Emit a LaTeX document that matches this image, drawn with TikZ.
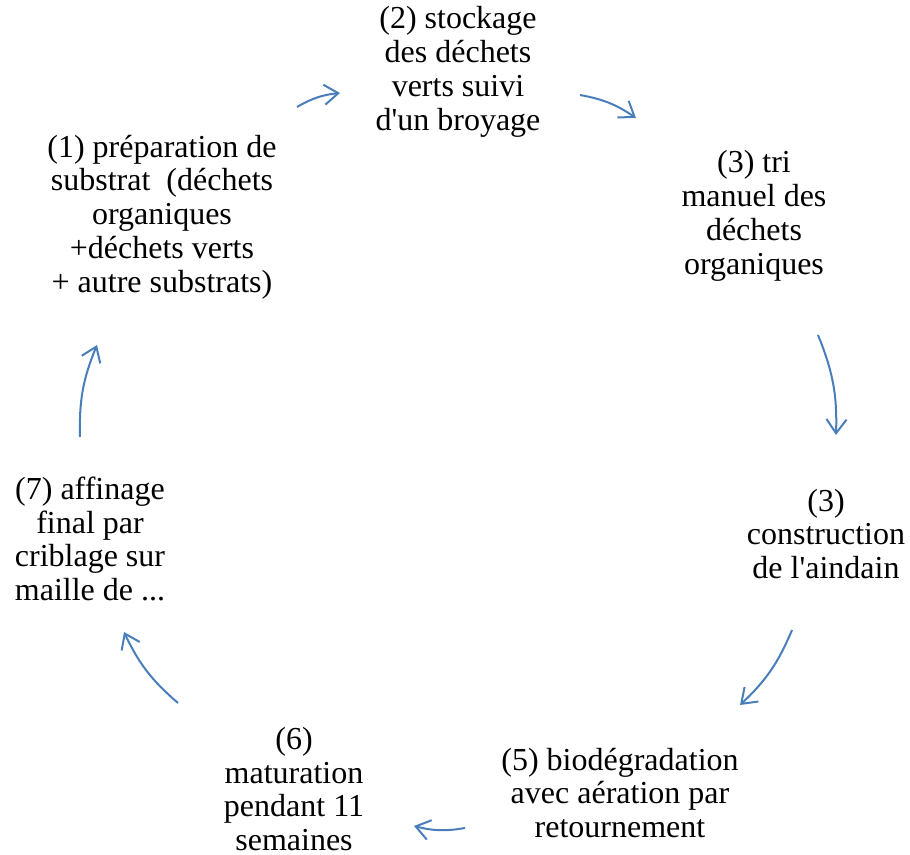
\documentclass[tikz,border=0pt]{standalone}
\usepackage{fontspec}
\setmainfont{Liberation Serif}
\usetikzlibrary{arrows.meta}
\definecolor{arrowblue}{HTML}{4A7EBB}
\tikzset{
  stepnode/.style={align=center, inner sep=0pt, font=\fontsize{32}{33.8}\selectfont},
  cyclearrow/.style={draw=arrowblue, line width=2pt, -{Straight Barb[length=14pt,width=20pt,line width=2pt]}, bend left=12}
}
\begin{document}
\begin{tikzpicture}[x=1pt,y=-1pt]
\useasboundingbox (0,0) rectangle (910,854);
\node[stepnode] (n2) at (458,72) {(2) stockage\\des déchets\\verts suivi\\d\textquotesingle un broyage};
\node[stepnode] (n3) at (754,216) {(3) tri\\manuel des\\déchets\\organiques};
\node[stepnode] (n4) at (826,534) {(3)\\construction\\de l\textquotesingle aindain};
\node[stepnode] (n5) at (620,793) {(5) biodégradation\\avec aération par\\retournement};
\node[stepnode] (n6) at (294,789) {(6)\\maturation\\pendant 11\\semaines};
\node[stepnode] (n7) at (90,539) {(7) affinage\\final par\\criblage sur\\maille de ...};
\node[stepnode] (n1) at (162,217) {(1) préparation de\\substrat~ (déchets\\organiques\\+déchets verts\\+ autre substrats)};
\coordinate (a1s) at (297,107); \coordinate (a1e) at (340,93);
\coordinate (a2s) at (580,95);  \coordinate (a2e) at (636,118);
\coordinate (a3s) at (818,335); \coordinate (a3e) at (836,435);
\coordinate (a4s) at (792,630); \coordinate (a4e) at (740,705);
\coordinate (a5s) at (465,828); \coordinate (a5e) at (414,826);
\coordinate (a6s) at (178,703); \coordinate (a6e) at (124,632);
\coordinate (a7s) at (80,437);  \coordinate (a7e) at (97,345);
\draw[cyclearrow] (a1s) to (a1e);
\draw[cyclearrow] (a2s) to (a2e);
\draw[cyclearrow] (a3s) to (a3e);
\draw[cyclearrow] (a4s) to (a4e);
\draw[cyclearrow] (a5s) to (a5e);
\draw[cyclearrow] (a6s) to (a6e);
\draw[cyclearrow] (a7s) to (a7e);
\end{tikzpicture}
\end{document}
